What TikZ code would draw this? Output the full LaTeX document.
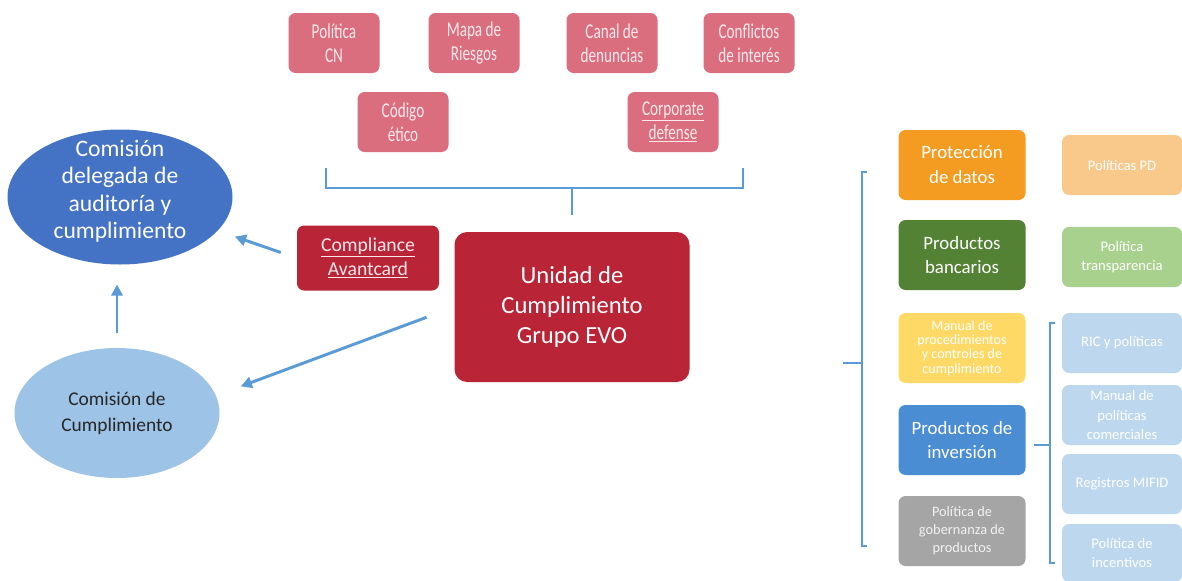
\documentclass[tikz,border=0pt]{standalone}
\usepackage{fontspec}
\setmainfont{Carlito}
\newfontfamily\narrowfont{Carlito}[FakeStretch=0.72]
\usetikzlibrary{arrows.meta,shapes.geometric}
\definecolor{pinkbox}{HTML}{DB6E7E}
\definecolor{pinktext}{HTML}{FDE8EC}
\definecolor{redbox}{HTML}{B92536}
\definecolor{bluedark}{HTML}{4472C4}
\definecolor{bluelight}{HTML}{9DC3E6}
\definecolor{bluemid}{HTML}{4A8DD2}
\definecolor{bluepale}{HTML}{BDD7EE}
\definecolor{orangebox}{HTML}{F39C21}
\definecolor{orangelight}{HTML}{F9C98B}
\definecolor{greenbox}{HTML}{548235}
\definecolor{greenlight}{HTML}{A9D18E}
\definecolor{yellowbox}{HTML}{FFD966}
\definecolor{greybox}{HTML}{A5A5A5}
\definecolor{linkblue}{HTML}{5B9BD5}
\newcommand{\pxl}{0.025cm}

\begin{document}
\begin{tikzpicture}[x=0.025cm,y=-0.025cm,
  BoxStyle/.style={rectangle, rounded corners=5pt, inner sep=0pt, align=center},
  TopStyle/.style={BoxStyle, fill=pinkbox, text=pinktext, minimum width=91*\pxl,
    minimum height=60*\pxl, font=\narrowfont\fontsize{15}{17}\selectfont},
  SideStyle/.style={BoxStyle, text=white, minimum width=127*\pxl, minimum height=70*\pxl,
    font=\fontsize{13.4}{17.7}\selectfont},
  LightStyle/.style={BoxStyle, text=white, minimum width=120*\pxl, minimum height=60*\pxl,
    font=\fontsize{10.4}{14}\selectfont},
  EllStyle/.style={ellipse, inner sep=0pt},
  LineStyle/.style={draw=linkblue, line width=2.1pt},
  ArrowStyle/.style={LineStyle, -{Triangle[length=8pt,width=8pt]}}]
\path[use as bounding box, fill=white] (0,0) rectangle (1182,580);

% themes above the unit
\node[TopStyle] (politica) at (334,43) {Política\\CN};
\node[TopStyle] (mapa) at (474,43) {Mapa de\\Riesgos};
\node[TopStyle] (canal) at (612,43) {Canal de\\denuncias};
\node[TopStyle] (conflictos) at (749,43) {Conflictos\\de interés};
\node[TopStyle] (codigo) at (403,122) {Código\\ético};
\node[TopStyle] (corporate) at (673,122) {\underline{Corporate}\\\underline{defense}};
\draw[LineStyle] (326,168) -- (326,188) -- (743,188) -- (743,168);

% unit and committees
\node[BoxStyle, fill=redbox, text=white, rounded corners=9pt, minimum width=235*\pxl,
  minimum height=150*\pxl, font=\fontsize{17.5}{21.3}\selectfont] (unidad) at (572,307)
  {Unidad de\\Cumplimiento\\Grupo EVO};
\node[BoxStyle, fill=redbox, text=pinktext, minimum width=142*\pxl, minimum height=65*\pxl,
  font=\fontsize{14}{17}\selectfont] (compliance) at (368,258)
  {\underline{Compliance}\\\underline{Avantcard}};
\node[EllStyle, fill=bluedark, minimum width=225*\pxl, minimum height=135*\pxl,
  label={[text=white, align=center, yshift=4pt, font=\fontsize{16.8}{19.5}\selectfont]center:{Comisión\\delegada de\\auditoría y\\cumplimiento}}]
  (delegada) at (120,197) {};
\node[EllStyle, fill=bluelight, minimum width=205*\pxl, minimum height=130*\pxl,
  label={[text=black!85, align=center, font=\fontsize{13.8}{18.5}\selectfont]center:{Comisión de\\Cumplimiento}}]
  (comision) at (117,413) {};

\draw[LineStyle, shorten <=12pt] (unidad.north) -- ++(0,-44);
\draw[ArrowStyle, shorten <=12pt, shorten >=12.8pt] (compliance.west) -- (delegada);
\draw[ArrowStyle, shorten <=10.5pt, shorten >=14pt] (comision.north) -- (comision.north |- delegada.south);
\draw[ArrowStyle, shorten <=21pt, shorten >=18.7pt] (unidad.west) -- (comision.10);

% areas on the right
\node[SideStyle, fill=orangebox] (proteccion) at (962,165) {Protección\\de datos};
\node[SideStyle, fill=greenbox] (bancarios) at (962,255) {Productos\\bancarios};
\node[SideStyle, fill=yellowbox, font=\fontsize{10}{10.3}\selectfont] (manual) at (962,348)
  {Manual de\\procedimientos\\y controles de\\cumplimiento};
\node[SideStyle, fill=bluemid] (inversion) at (962,440) {Productos de\\inversión};
\node[SideStyle, fill=greybox, text=black!5, font=\fontsize{10.2}{12.8}\selectfont] (gobernanza) at (962,531)
  {Política de\\gobernanza de\\productos};
\draw[LineStyle] (867,172) -- (862,172) -- (862,546) -- (867,546);
\draw[LineStyle] (843,363) -- (862,363);

\node[LightStyle, fill=orangelight] (pd) at (1122,165) {Políticas PD};
\node[LightStyle, fill=greenlight] (transparencia) at (1122,257) {Política\\transparencia};
\node[LightStyle, fill=bluepale] (ric) at (1122,343) {RIC y políticas};
\node[LightStyle, fill=bluepale] (comerciales) at (1122,415) {Manual de\\políticas\\comerciales};
\node[LightStyle, fill=bluepale] (mifid) at (1122,484) {Registros MIFID};
\node[LightStyle, fill=bluepale, minimum height=58*\pxl] (incentivos) at (1122,553) {Política de\\incentivos};
\draw[LineStyle] (1055,323) -- (1050,323) -- (1050,563) -- (1055,563);
\draw[LineStyle] (inversion.east) ++(8,5) -- ++(17,0);
\end{tikzpicture}
\end{document}
